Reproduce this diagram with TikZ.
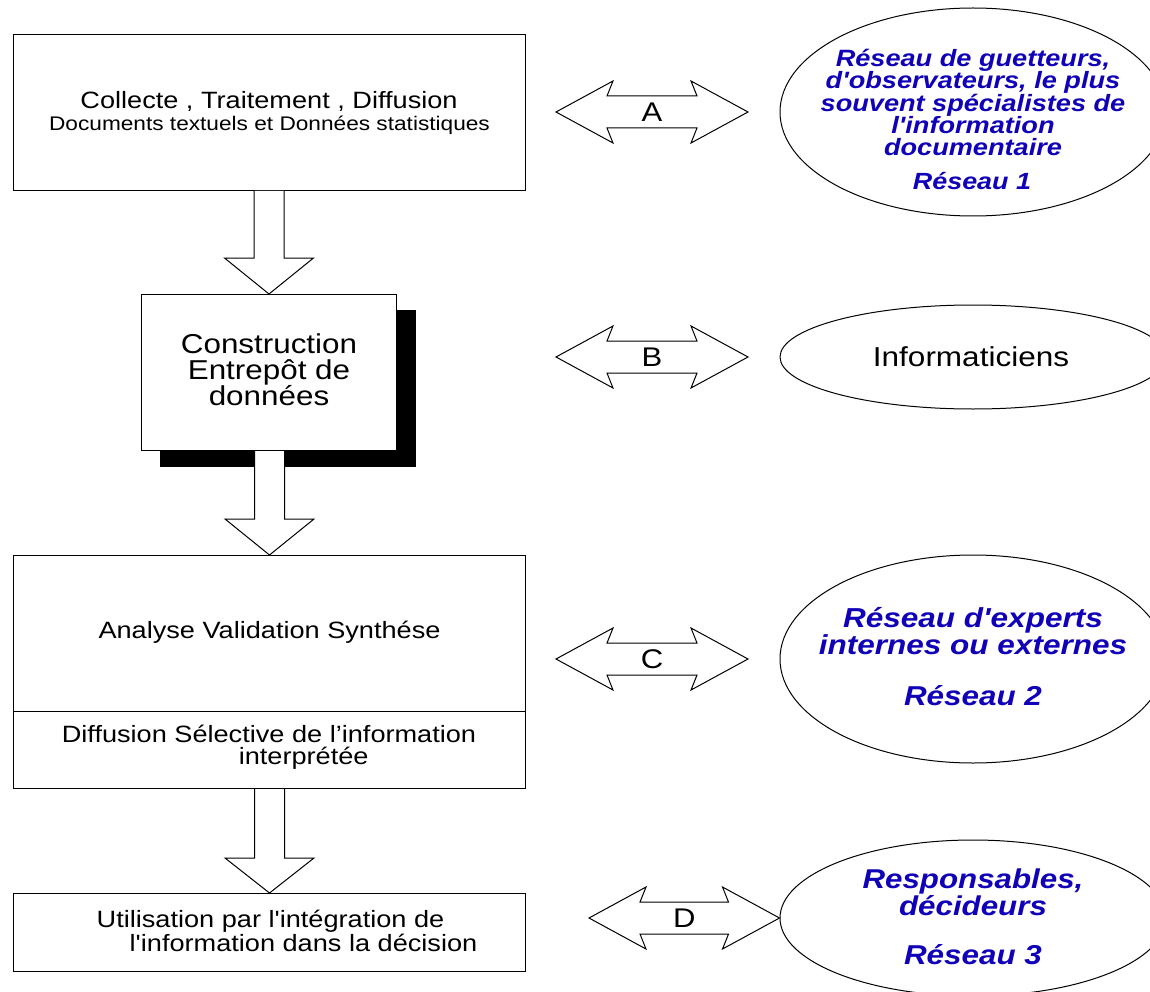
\documentclass[tikz,border=0pt]{standalone}
\usepackage{fontspec}
\newfontfamily\arialx[FakeStretch=1.15]{Liberation Sans}
\usetikzlibrary{shapes.geometric,calc}
\definecolor{netblue}{RGB}{16,0,184}
\newcommand{\fs}[2]{\fontsize{#1pt}{#2pt}\selectfont}
\tikzset{
  boxnode/.style={draw=black,fill=white,line width=1pt,rectangle,inner sep=0pt,anchor=north west},
  netnode/.style={draw=black,fill=white,line width=1pt,ellipse,inner sep=0pt,minimum width=386pt},
  blockarrow/.style={draw=black,fill=white,line width=1pt,line join=miter},
  txt/.style={inner sep=0pt,align=center,text=black,font=\arialx\fs{#1}{22}},
  txtls/.style 2 args={inner sep=0pt,align=center,text=black,font=\arialx\fs{#1}{#2}},
  bluetext/.style 2 args={inner sep=0pt,align=center,text=netblue,font=\arialx\bfseries\itshape\fs{#1}{#2}}
}
% vertical block arrow, from the bottom of one box to the top of the next
\newcommand{\blockdown}[3]{%
  \draw[blockarrow] let \p1=(#1),\p2=(#2) in
    (\x2-15pt,\y1) -- (\x2-15pt,\y2+#3pt) -- (\x2-44.5pt,\y2+#3pt) -- (\x2,\y2)
    -- (\x2+44.5pt,\y2+#3pt) -- (\x2+15pt,\y2+#3pt) -- (\x2+15pt,\y1);}
% horizontal double block arrow
\newcommand{\blockboth}[2]{%
  \draw[blockarrow] let \p1=(#1),\p2=(#2) in
    (\x1,\y1) -- (\x1+57pt,\y1+31pt) -- (\x1+51pt,\y1+16pt) -- (\x2-51pt,\y1+16pt)
    -- (\x2-57pt,\y1+31pt) -- (\x2,\y1) -- (\x2-57pt,\y1-31pt) -- (\x2-51pt,\y1-16pt)
    -- (\x1+51pt,\y1-16pt) -- (\x1+57pt,\y1-31pt) -- cycle;}
\begin{document}
\begin{tikzpicture}[x=1pt,y=-1pt]
\useasboundingbox (0,0) rectangle (1150,992);
\clip (0,0) rectangle (1150,992);

% shadow
\fill[black] (160,310) rectangle (416,467);

% boxes
\node[boxnode,minimum width=512pt,minimum height=156pt] (b1) at (13,34) {};
\node[boxnode,minimum width=255pt,minimum height=156pt] (b2) at (141,294) {};
\node[boxnode,minimum width=512pt,minimum height=233pt] (b3) at (13,555) {};
\node[boxnode,minimum width=512pt,minimum height=78pt] (b4) at (13,893) {};
\draw[line width=1pt] (13,711) coordinate (d1) -- (525,711) coordinate (d2);

% box texts
\node[txt=23.6] (t1a) at (269,101) {Collecte , Traitement , Diffusion};
\node[txt=19.7] (t1b) at (269.5,125) {Documents textuels et Données statistiques};
\node[txtls={27.3}{25.5}] (t2) at (269,370) {Construction\\Entrepôt de\\données};
\node[txt=23.6] (t3) at (269.5,632) {Analyse Validation Synthése};
\node[txt=23.6,align=left] (t3b) at (269,747.5) {Diffusion Sélective de l’information\\\hspace*{177pt}interprétée};
\node[txt=23.6,align=left] (t4) at (287,931) {Utilisation par l'intégration de\\\hspace*{33pt}l'information dans la décision};

% down arrows
\blockdown{b1.south}{b2.north}{36}
\blockdown{b2.south}{b3.north}{36}
\blockdown{b3.south}{b4.north}{35}

% ellipses
\node[netnode,minimum height=208pt] (e1) at (973,112) {};
\node[netnode,minimum height=104pt] (e2) at (973,357) {};
\node[netnode,minimum height=208pt] (e3) at (973,659) {};
\node[netnode,minimum height=156pt] (e4) at (973,918) {};

% ellipse texts
\node[bluetext={23.6}{22.3}] (et1) at (973,102.5) {Réseau de guetteurs,\\d'observateurs, le plus\\souvent spécialistes de\\l'information\\documentaire};
\node[bluetext={23.4}{24}] (et1b) at (972,181) {Réseau 1};
\node[txt=27.4] (et2) at (971,357) {Informaticiens};
\node[bluetext={27.4}{25}] (et3) at (973,631) {Réseau d'experts\\internes ou externes};
\node[bluetext={27.3}{28}] (et3b) at (973,696) {Réseau 2};
\node[bluetext={27.2}{27}] (et4) at (973,892) {Responsables,\\décideurs};
\node[bluetext={27.3}{28}] (et4b) at (973,955) {Réseau 3};

% double arrows
\coordinate (la) at (556,112);\coordinate (ra) at (748,112);
\coordinate (lb) at (556,357);\coordinate (rb) at (748,357);
\coordinate (lc) at (556,659);\coordinate (rc) at (748,659);
\coordinate (ld) at (589,918);
\blockboth{la}{ra}
\blockboth{lb}{rb}
\blockboth{lc}{rc}
\blockboth{ld}{e4.west}
\node[txt=27] (la1) at ($(la)!0.5!(ra)$) {A};
\node[txt=27] (la2) at ($(lb)!0.5!(rb)$) {B};
\node[txt=27] (la3) at ($(lc)!0.5!(rc)$) {C};
\node[txt=27] (la4) at ($(ld)!0.5!(e4.west)$) {D};
\end{tikzpicture}
\end{document}
